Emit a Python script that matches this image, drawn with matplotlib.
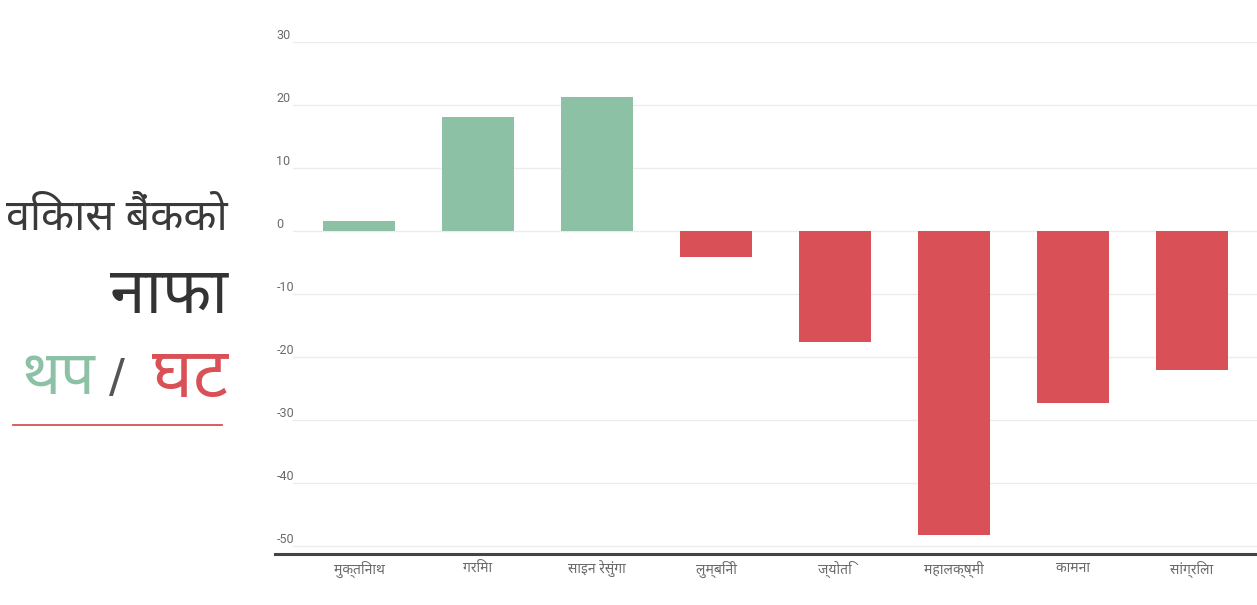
import matplotlib
matplotlib.use("Agg")
import matplotlib.pyplot as plt
from matplotlib import font_manager as fm
from matplotlib.ft2font import FT2Font

# बैंकहरू र नाफा थप/घट (प्रतिशत)
banks = ["मुक्तिनाथ", "गरिमा", "साइन रेसुंगा", "लुम्बिनी",
         "ज्योति", "महालक्ष्मी", "कामना", "सांग्रिला"]
change = [1.5, 18.1, 21.3, -4.1, -17.7, -48.3, -27.3, -22.1]
yticks = [30, 20, 10, 0, -10, -20, -30, -40, -50]

GREEN = "#8cc1a5"
RED = "#d95156"


# देवनागरी अक्षर भएको फन्ट खोज्ने (unifont जस्तो पिक्सेल फन्ट अन्तिममा)
def find_deva_font():
    names = []
    for f in fm.fontManager.ttflist:
        try:
            if 0x0915 in FT2Font(f.fname).get_charmap() and f.name not in names:
                names.append(f.name)
        except Exception:
            pass
    names.sort(key=lambda n: ("unifont" in n.lower(), "noto" not in n.lower()))
    return names


deva = find_deva_font()
plt.rcParams["font.family"] = deva[:1] + ["DejaVu Sans"]

fig = plt.figure(figsize=(12.57, 6.05), dpi=100)
ax = fig.add_axes([275 / 1257, 1 - 554 / 605, 982 / 1257, (554 - 41.7) / 605])

x = list(range(len(banks)))
colors = [GREEN if v >= 0 else RED for v in change]
ax.bar(x, change, width=0.61, color=colors, zorder=2)

ax.set_xlim(-0.706, 7.546)
ax.set_ylim(-51.3, 30)

# ग्रिड लाइन
for t in yticks:
    ax.axhline(t, xmin=18 / 982, xmax=1, color="#ececec", lw=1, zorder=0)

ax.set_yticks(yticks)
ax.set_yticklabels([str(t) for t in yticks], family="Roboto")
ax.tick_params(axis="y", length=0, pad=-1, labelsize=9, labelcolor="#6a6a6a")
for lab in ax.get_yticklabels():
    lab.set_horizontalalignment("left")
    lab.set_verticalalignment("bottom")

ax.set_xticks(x)
ax.set_xticklabels(banks)
ax.tick_params(axis="x", length=0, pad=5, labelsize=10, labelcolor="#6a6a6a")

for s in ["top", "right", "left"]:
    ax.spines[s].set_visible(False)
ax.spines["bottom"].set_color("#444444")
ax.spines["bottom"].set_linewidth(2.2)

# बायाँ शीर्षक
fig.text(228 / 1257, 1 - 218 / 605, "विकास बैंकको", ha="right", va="center",
         fontsize=31, fontweight="medium", color="#3a3a3a")
fig.text(228 / 1257, 1 - 296 / 605, "नाफा", ha="right", va="center",
         fontsize=46, fontweight="bold", color="#333333")
fig.text(228 / 1257, 1 - 379 / 605, "घट", ha="right", va="center",
         fontsize=50, fontweight="bold", color=RED)
fig.text(117 / 1257, 1 - 380 / 605, "/", ha="center", va="center",
         fontsize=34, color="#555555", family="DejaVu Sans")
fig.text(95 / 1257, 1 - 379 / 605, "थप", ha="right", va="center",
         fontsize=44, fontweight="bold", color=GREEN)
fig.add_artist(plt.Line2D([13 / 1257, 222 / 1257], [1 - 425 / 605, 1 - 425 / 605],
                          color=RED, lw=1.3, transform=fig.transFigure))

fig.savefig("out.png", dpi=100, facecolor="white")
